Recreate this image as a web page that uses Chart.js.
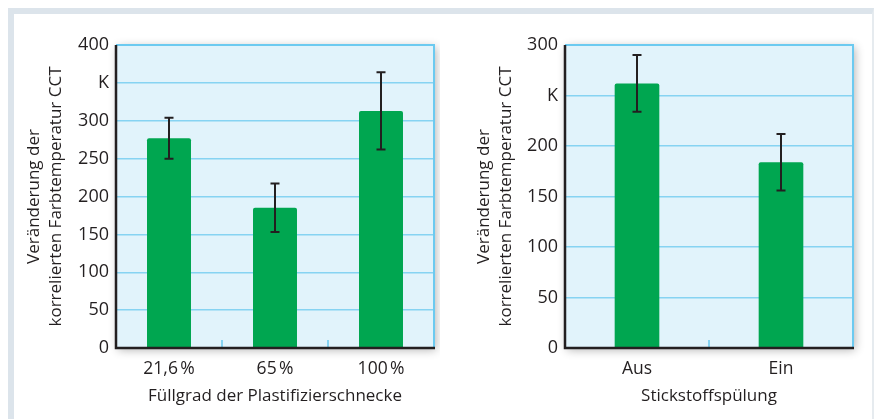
<!DOCTYPE html>
<html>
<head>
<meta charset="utf-8">
<script src="https://cdn.jsdelivr.net/npm/chart.js@4.4.0/dist/chart.umd.min.js"></script>
<style>
  body { margin: 0; background: #fff; }
  #frame { position: absolute; left: 8px; top: 8px; width: 858px; height: 411px;
           border-top: 6px solid #dce4eb; border-left: 6px solid #dce4eb; border-right: 2px solid #e6ebef; }
  canvas { position: absolute; top: 0; }
  #c1 { left: 0; }
  #c2 { left: 440px; }
</style>
</head>
<body>
<div id="frame"></div>
<canvas id="c1" width="440" height="419"></canvas>
<canvas id="c2" width="434" height="419"></canvas>
<script>
// left chart: Füllgrad
const fillLabels = ["21,6\u202F%", "65\u202F%", "100\u202F%"];
const fillValues = [277, 185, 313];
const fillErrors = [27, 32, 51];

// right chart: Stickstoffspülung
const n2Labels = ["Aus", "Ein"];
const n2Values = [262, 184];
const n2Errors = [28, 28];

const yTitle = ["Veränderung der", "korrelierten Farbtemperatur CCT"];
const FONT = "'Open Sans', sans-serif";
const INK = "#231f20";
const GRID = "#86d3f2";

const plotDeco = {
    id: "plotDeco",
    beforeDraw(chart) {
        const { ctx, chartArea: a } = chart;
        ctx.save();
        ctx.shadowColor = "rgba(0,0,0,0.3)";
        ctx.shadowBlur = 9;
        ctx.shadowOffsetX = 2;
        ctx.shadowOffsetY = 2;
        ctx.fillStyle = "#e1f3fb";
        ctx.fillRect(a.left, a.top, a.right - a.left, a.bottom - a.top);
        ctx.restore();
    },
    afterDatasetsDraw(chart) {
        const { ctx, chartArea: a } = chart;
        const xs = chart.scales.x, ys = chart.scales.y;
        const errs = chart.config.options.errs;
        const vals = chart.data.datasets[0].data;
        ctx.save();
        // small ticks between categories
        ctx.strokeStyle = GRID;
        ctx.lineWidth = 2;
        for (let i = 1; i < vals.length; i++) {
            const x = (xs.getPixelForTick(i - 1) + xs.getPixelForTick(i)) / 2;
            ctx.beginPath();
            ctx.moveTo(x, a.bottom);
            ctx.lineTo(x, a.bottom - 8);
            ctx.stroke();
        }
        // top + right border
        ctx.strokeStyle = "#6ccaf0";
        ctx.lineWidth = 2;
        ctx.beginPath();
        ctx.moveTo(a.left, a.top);
        ctx.lineTo(a.right, a.top);
        ctx.lineTo(a.right, a.bottom);
        ctx.stroke();
        // axes
        ctx.strokeStyle = INK;
        ctx.lineWidth = 2.5;
        ctx.beginPath();
        ctx.moveTo(a.left, a.top);
        ctx.lineTo(a.left, a.bottom);
        ctx.lineTo(a.right + 1, a.bottom);
        ctx.stroke();
        // error bars
        ctx.lineWidth = 2;
        vals.forEach((v, i) => {
            const x = xs.getPixelForTick(i);
            const yt = ys.getPixelForValue(v + errs[i]);
            const yb = ys.getPixelForValue(v - errs[i]);
            ctx.beginPath();
            ctx.moveTo(x, yt); ctx.lineTo(x, yb);
            ctx.moveTo(x - 4.5, yt); ctx.lineTo(x + 4.5, yt);
            ctx.moveTo(x - 4.5, yb); ctx.lineTo(x + 4.5, yb);
            ctx.stroke();
        });
        ctx.restore();
    }
};

function makeChart(id, labels, values, errs, opts) {
    return new Chart(document.getElementById(id), {
        type: "bar",
        data: {
            labels: labels,
            datasets: [{
                data: values,
                backgroundColor: "#00a650",
                borderRadius: 2,
                borderSkipped: "bottom",
                barPercentage: opts.barPct,
                categoryPercentage: 1
            }]
        },
        options: {
            responsive: false,
            animation: false,
            errs: errs,
            layout: { padding: { left: 0, top: 45, right: opts.padRight, bottom: 0 } },
            plugins: { legend: { display: false }, tooltip: { enabled: false } },
            scales: {
                x: {
                    afterFit: s => { s.height = 71; },
                    grid: { display: false },
                    border: { display: false },
                    ticks: { color: INK, font: { family: FONT, size: 17.5 }, padding: 3 },
                    title: { display: true, text: opts.xTitle, color: INK,
                             font: { family: FONT, size: 17 }, padding: { bottom: 13 } }
                },
                y: {
                    min: 0, max: opts.max,
                    afterFit: s => { s.width = opts.axisW; },
                    grid: { color: GRID, lineWidth: 1.5, drawTicks: false },
                    border: { display: false },
                    ticks: {
                        stepSize: 50, color: INK, font: { family: FONT, size: 18 }, padding: 7,
                        callback: v => v === opts.kAt ? "K" : v
                    },
                    title: { display: true, text: yTitle, color: INK,
                             font: { family: FONT, size: 17, lineHeight: 1.3 }, padding: { top: opts.titlePad } }
                }
            }
        },
        plugins: [plotDeco]
    });
}

makeChart("c1", fillLabels, fillValues, fillErrors,
    { max: 400, kAt: 350, barPct: 0.415, padRight: 6, axisW: 116, titlePad: 23,
      xTitle: "Füllgrad der Plastifizierschnecke" });
makeChart("c2", n2Labels, n2Values, n2Errors,
    { max: 300, kAt: 250, barPct: 0.31, padRight: 21, axisW: 125, titlePad: 33,
      xTitle: "Stickstoffspülung" });
</script>
</body>
</html>
